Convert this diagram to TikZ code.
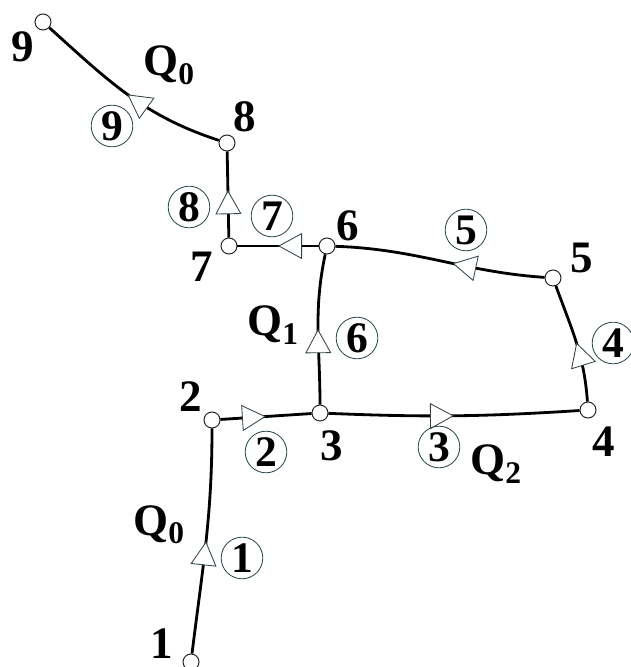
\documentclass[tikz,border=0pt]{standalone}
\usepackage{fontspec}
\setmainfont{Liberation Serif}
\usetikzlibrary{arrows.meta,decorations.markings}
\definecolor{ringTeal}{HTML}{2E4A50}
\definecolor{tipGray}{HTML}{33444A}

\tikzset{
  junc/.style={circle,draw=black!85,fill=white,line width=0.7pt,minimum size=0.4cm,inner sep=0pt},
  pipe/.style={line width=2pt},
  flow/.style={postaction={decorate,decoration={markings,
    mark=at position #1 with {\arrow{Triangle[length=6mm,width=6.5mm,color=tipGray,fill=white,line width=0.6pt]}}}}},
  idx/.style={inner sep=0pt,font=\bfseries\fontsize{32}{32}\selectfont},
  ring/.style={circle,draw=ringTeal,line width=0.6pt,minimum size=1.04cm,inner sep=0pt,
    font=\bfseries\fontsize{31}{31}\selectfont},
  qlab/.style={inner sep=0pt,anchor=base west,font=\bfseries\fontsize{32}{32}\selectfont}
}

\begin{document}
\begin{tikzpicture}[x=0.025cm,y=0.025cm]
  \useasboundingbox (0,0) rectangle (631,667);
  % junctions
  \node[junc] (n1) at (191,5) {};
  \node[junc] (n2) at (212,247) {};
  \node[junc] (n3) at (320,254) {};
  \node[junc] (n4) at (588,257) {};
  \node[junc] (n5) at (553,389) {};
  \node[junc] (n6) at (327,421) {};
  \node[junc] (n7) at (229,421) {};
  \node[junc] (n8) at (227,524) {};
  \node[junc] (n9) at (43,645) {};
  % pipes
  \draw[pipe,flow=0.5] (n1) to[out=83,in=-90] (n2);
  \draw[pipe,flow=0.5] (n2) -- (n3);
  \draw[pipe,flow=0.5] (n3) to[bend right=3] (n4);
  \draw[pipe,flow=0.5] (n4) to[out=94,in=-70] (n5);
  \draw[pipe,flow=0.44] (n5) to[out=176,in=-2] (n6);
  \draw[pipe,flow=0.5] (n3) to[out=90,in=-102] (n6);
  \draw[pipe,flow=0.5] (n6) -- (n7);
  \draw[pipe,flow=0.55] (n7) -- (n8);
  \draw[pipe,flow=0.5] (n8) to[out=162,in=-42] (n9);
  % junction numbers
  \node[idx] (l1) at (162,23) {1};
  \node[idx] (l2) at (191,270) {2};
  \node[idx] (l3) at (332,221) {3};
  \node[idx] (l4) at (604,225) {4};
  \node[idx] (l5) at (582,409) {5};
  \node[idx] (l6) at (348,441) {6};
  \node[idx] (l7) at (202,400) {7};
  \node[idx] (l8) at (245,550) {8};
  \node[idx] (l9) at (23,620) {9};
  % pipe numbers
  \node[ring] (r1) at (242,109) {1};
  \node[ring] (r2) at (266,215) {2};
  \node[ring] (r3) at (439,220) {3};
  \node[ring] (r4) at (613,324) {4};
  \node[ring] (r5) at (466,437) {5};
  \node[ring] (r6) at (357,329) {6};
  \node[ring] (r7) at (272,451) {7};
  \node[ring] (r8) at (189,460) {8};
  \node[ring] (r9) at (112,541) {9};
  % flows
  \node[qlab] (q0a) at (133,132) {Q\textsubscript{0}};
  \node[qlab] (q1) at (247,331) {Q\textsubscript{1}};
  \node[qlab] (q2) at (470,192) {Q\textsubscript{2}};
  \node[qlab] (q0b) at (143,591) {Q\textsubscript{0}};
\end{tikzpicture}
\end{document}
